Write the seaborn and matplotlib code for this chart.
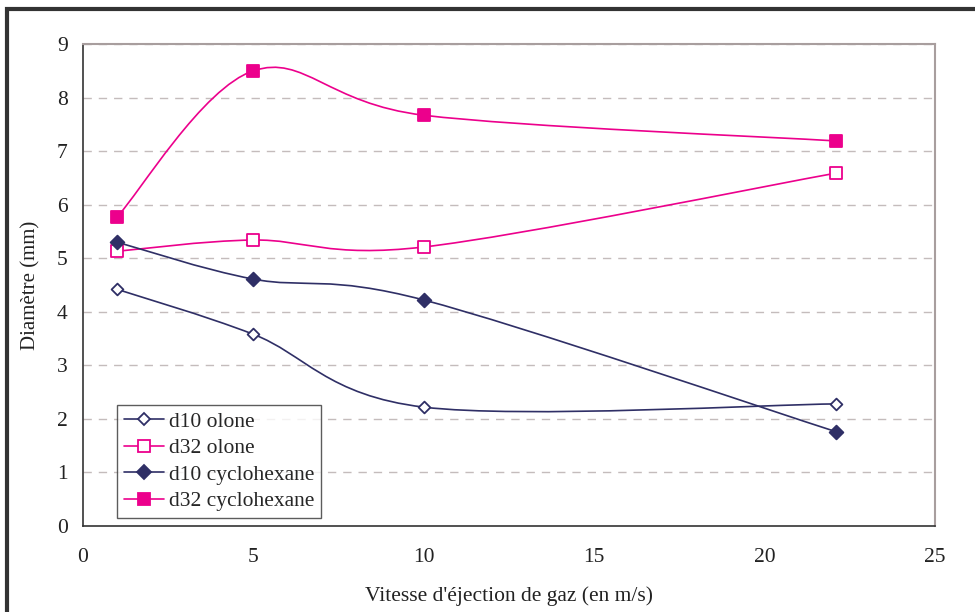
import numpy as np
import matplotlib
matplotlib.use("Agg")
import matplotlib.pyplot as plt
import seaborn as sns
from matplotlib.path import Path
from matplotlib.patches import PathPatch, Rectangle
from matplotlib.lines import Line2D

# données
vitesse = [1, 5, 10, 22.1]
d10_olone = [4.42, 3.58, 2.22, 2.28]
d32_olone = [5.13, 5.34, 5.21, 6.59]
d10_cyclo = [5.30, 4.61, 4.22, 1.76]
d32_cyclo = [5.77, 8.50, 7.67, 7.19]

noms = ["d10 olone", "d32 olone", "d10 cyclohexane", "d32 cyclohexane"]
series = [d10_olone, d32_olone, d10_cyclo, d32_cyclo]

navy = "#2F2F66"
rose = "#EC008C"
couleurs = [navy, rose, navy, rose]
marqueurs = ["D", "s", "D", "s"]
pleins = [False, False, True, True]
tailles = [6, 8, 7, 9]

sns.set_style("white")
plt.rcParams["font.family"] = ["Liberation Serif", "DejaVu Serif"]


def courbe_lissee(x, y):
    # courbe type Excel (Catmull-Rom -> segments de Bezier)
    pts = np.column_stack([x, y]).astype(float)
    verts = [pts[0]]
    codes = [Path.MOVETO]
    n = len(pts)
    for i in range(n - 1):
        p0 = pts[i - 1] if i > 0 else pts[i]
        p1 = pts[i]
        p2 = pts[i + 1]
        p3 = pts[i + 2] if i + 2 < n else pts[i + 1]
        c1 = p1 + (p2 - p0) / 6
        c2 = p2 - (p3 - p1) / 6
        verts += [c1, c2, p2]
        codes += [Path.CURVE4] * 3
    return Path(verts, codes)


fig = plt.figure(figsize=(9.75, 6.12), dpi=100)
ax = fig.add_axes([0.0851, 0.1405, 0.8739, 0.7876])

# grille horizontale en tirets
for yv in range(1, 10):
    ax.axhline(yv, color="#C4BCBC", lw=1.0, ls=(0, (6, 5)), zorder=0)

handles = []
for nom, y, c, m, f, s in zip(noms, series, couleurs, marqueurs, pleins, tailles):
    ax.add_patch(PathPatch(courbe_lissee(vitesse, y), fc="none", ec=c, lw=1.2, zorder=2))
    sns.scatterplot(x=vitesse, y=y, ax=ax, marker=m, s=s ** 2,
                    color=c if f else "white", edgecolor=c, linewidth=1.3, zorder=3,
                    legend=False)
    handles.append(Line2D([], [], color=c, lw=1.2, marker=m, markersize=s,
                          markerfacecolor=c if f else "white", markeredgecolor=c,
                          markeredgewidth=1.3))

ax.set_xlim(0, 25)
ax.set_ylim(0, 9)
ax.set_xticks(range(0, 26, 5))
ax.set_yticks(range(0, 10))
ax.tick_params(axis="both", direction="out", length=6, width=1, colors="#333333",
               labelsize=15.5, labelcolor="#222222", pad=5)
ax.tick_params(axis="x", pad=10)

for cote in ["left", "bottom"]:
    ax.spines[cote].set_color("#333333")
    ax.spines[cote].set_linewidth(1.2)
for cote in ["top", "right"]:
    ax.spines[cote].set_color("#A89E9E")
    ax.spines[cote].set_linewidth(1.5)

ax.set_xlabel("Vitesse d'éjection de gaz (en m/s)", fontsize=15.5, color="#222222", labelpad=14)
ax.set_ylabel("Diamètre (mm)", fontsize=15, color="#222222", labelpad=12)

leg = ax.legend(handles, noms, loc="lower left", bbox_to_anchor=(0.04, 0.017),
                borderaxespad=0, fontsize=15.5, frameon=True, fancybox=False,
                handlelength=1.9, handletextpad=0.2, labelspacing=0.3,
                borderpad=0.3)
leg.get_frame().set_edgecolor("#333333")
leg.get_frame().set_linewidth(1.0)

# cadre du graphique
fig.patches.append(Rectangle((7 / 975, -0.1), 1.2, 1 - 9 / 612 + 0.1, transform=fig.transFigure,
                             fill=False, ec="#333333", lw=3, zorder=10))

fig.savefig("out.png", dpi=100)
